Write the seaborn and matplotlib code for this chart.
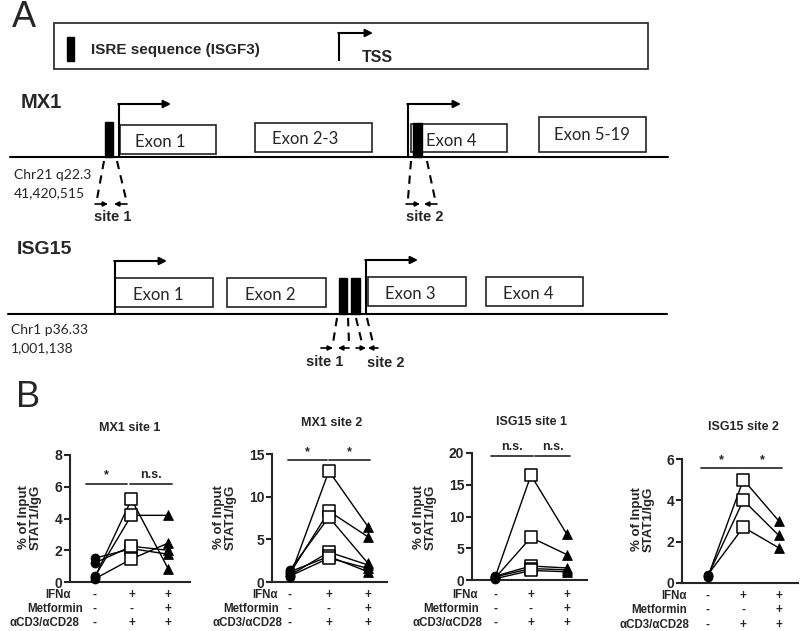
import numpy as np
import pandas as pd
import matplotlib
matplotlib.use('Agg')
import matplotlib.pyplot as plt
import matplotlib.transforms as mtransforms
from matplotlib.patches import Rectangle
import seaborn as sns

sns.set_style('ticks')
plt.rcParams['font.family'] = ['Liberation Sans', 'DejaVu Sans']

# ---------------- data (panel B) ----------------
panel_titles = ['MX1 site 1', 'MX1 site 2', 'ISG15 site 1', 'ISG15 site 2']

mx1_s1_ctrl = [0.3, 0.35, 1.5, 1.2, 0.2]
mx1_s1_ifn = [5.2, 4.2, 2.1, 2.25, 1.45]
mx1_s1_met = [0.85, 4.2, 1.75, 2.0, 2.45]

mx1_s2_ctrl = [0.6, 1.0, 1.4, 0.8, 1.2, 0.7]
mx1_s2_ifn = [13.0, 8.3, 7.6, 3.5, 3.0, 2.8]
mx1_s2_met = [6.5, 5.3, 2.2, 2.0, 1.2, 1.6]

isg_s1_ctrl = [0.4, 0.3, 0.6, 0.5, 0.2]
isg_s1_ifn = [16.5, 6.7, 2.2, 1.8, 1.5]
isg_s1_met = [7.2, 4.0, 1.9, 1.6, 1.3]

isg_s2_ctrl = [0.3, 0.35, 0.4]
isg_s2_ifn = [5.0, 4.0, 2.7]
isg_s2_met = [3.0, 2.3, 1.7]

y_max = [8, 15, 20, 6]
y_ticks = [[0, 2, 4, 6, 8], [0, 5, 10, 15], [0, 5, 10, 15, 20], [0, 2, 4, 6]]
sig_labels = [['*', 'n.s.'], ['*', '*'], ['n.s.', 'n.s.'], ['*', '*']]
sig_y = [6.2, 14.3, 19.6, 5.56]

row_labels = ['IFNα', 'Metformin', 'αCD3/αCD28']
row_signs = [['-', '+', '+'], ['-', '-', '+'], ['-', '+', '+']]

# ---------------- layout helpers ----------------
W, H = 800, 631
fig = plt.figure(figsize=(W / 100, H / 100), dpi=100)


def fx(x):
    return x / W


def fy(y):
    return 1 - y / H


# ---------------- panel A (diagram) ----------------
axA = fig.add_axes([0, 0, 1, 1])
axA.set_xlim(0, W)
axA.set_ylim(H, 0)
axA.axis('off')
axA.patch.set_alpha(0)

BOLD = dict(fontweight='bold', family=['Liberation Sans', 'DejaVu Sans'])
CAL = dict(family=['Lato', 'DejaVu Sans'])

axA.text(12, 27, 'A', fontsize=26, va='baseline', ha='left')
axA.text(16, 407, 'B', fontsize=26, va='baseline', ha='left')

# legend box
axA.add_patch(Rectangle((54, 23), 594, 46, fill=False, lw=1.3, ec='#333'))
axA.add_patch(Rectangle((67, 37), 7, 24, color='k'))
axA.text(91, 50, 'ISRE sequence (ISGF3)', fontsize=11, va='center', **BOLD)


def tss(x, y0, y1, x1):
    axA.plot([x, x], [y0, y1], color='k', lw=1.5, solid_capstyle='butt')
    axA.annotate('', xy=(x1, y1), xytext=(x - 0.7, y1),
                 arrowprops=dict(arrowstyle='-|>', lw=1.5, color='k',
                                 mutation_scale=11, shrinkA=0, shrinkB=0))


tss(339, 61, 33, 373)
axA.text(362, 58, 'TSS', fontsize=11.5, va='center', **BOLD)

# MX1
axA.text(21, 102, 'MX1', fontsize=14.5, va='center', **BOLD)
axA.plot([10, 668], [157, 157], color='k', lw=1.5)
for (x0, x1, y0, y1, lab, cx, cy) in [(120, 216, 125, 154, 'Exon 1', 160, 142),
                                      (255, 372, 123, 152, 'Exon 2-3', 305, 139),
                                      (411, 507, 124, 152, 'Exon 4', 451, 141),
                                      (539, 646, 117, 152, 'Exon 5-19', 592, 135)]:
    axA.add_patch(Rectangle((x0, y0), x1 - x0, y1 - y0, fill=False, lw=1.2, ec='#222'))
    axA.text(cx, cy, lab, fontsize=12, ha='center', va='center', **CAL)
axA.add_patch(Rectangle((105, 122), 8, 35, color='k'))
axA.add_patch(Rectangle((413, 123), 9, 34, color='k'))
tss(119, 157, 104, 171)
tss(408, 157, 104, 461)
axA.text(14, 175, 'Chr21 q22.3', fontsize=10, va='center', **CAL)
axA.text(14, 193, '41,420,515', fontsize=10, va='center', **CAL)

DASH = dict(color='k', lw=1.5, linestyle=(0, (4, 3)))


def site_arrow(xa, xb, y):
    axA.annotate('', xy=(xb, y), xytext=(xa, y),
                 arrowprops=dict(arrowstyle='-|>', lw=1.2, color='k',
                                 mutation_scale=7, shrinkA=0, shrinkB=0))


axA.plot([104, 97], [161, 199], **DASH)
axA.plot([117, 126], [161, 199], **DASH)
site_arrow(95, 108, 204)
site_arrow(127, 114, 204)
axA.text(113, 217, 'site 1', fontsize=10.5, ha='center', va='center', **BOLD)

axA.plot([411, 408], [161, 199], **DASH)
axA.plot([427, 435], [161, 199], **DASH)
site_arrow(406, 420, 204)
site_arrow(437, 424, 204)
axA.text(425, 217, 'site 2', fontsize=10.5, ha='center', va='center', **BOLD)

# ISG15
axA.text(17, 249, 'ISG15', fontsize=14, va='center', **BOLD)
axA.plot([8, 667], [314, 314], color='k', lw=1.5)
for (x0, x1, y0, y1, lab, cx, cy) in [(115, 213, 278, 307, 'Exon 1', 158, 295),
                                      (227, 326, 278, 307, 'Exon 2', 270, 295),
                                      (368, 466, 277, 306, 'Exon 3', 410, 294),
                                      (486, 583, 277, 306, 'Exon 4', 528, 294)]:
    axA.add_patch(Rectangle((x0, y0), x1 - x0, y1 - y0, fill=False, lw=1.2, ec='#222'))
    axA.text(cx, cy, lab, fontsize=12, ha='center', va='center', **CAL)
axA.add_patch(Rectangle((339, 278), 8, 36, color='k'))
axA.add_patch(Rectangle((351, 278), 9, 36, color='k'))
tss(115, 314, 261, 167)
tss(366, 314, 260, 418)
axA.text(11, 330, 'Chr1 p36.33', fontsize=10, va='center', **CAL)
axA.text(11, 348, '1,001,138', fontsize=10, va='center', **CAL)

axA.plot([337, 333], [318, 343], **DASH)
axA.plot([348, 349], [318, 343], **DASH)
axA.plot([356, 362], [318, 343], **DASH)
axA.plot([367, 373], [318, 343], **DASH)
site_arrow(321, 333, 348)
site_arrow(349, 338, 348)
site_arrow(356, 366, 348)
site_arrow(378, 368, 348)
axA.text(325, 362, 'site 1', fontsize=10.5, ha='center', va='center', **BOLD)
axA.text(386, 363, 'site 2', fontsize=10.5, ha='center', va='center', **BOLD)

# ---------------- panel B (seaborn) ----------------
panels = [(mx1_s1_ctrl, mx1_s1_ifn, mx1_s1_met),
          (mx1_s2_ctrl, mx1_s2_ifn, mx1_s2_met),
          (isg_s1_ctrl, isg_s1_ifn, isg_s1_met),
          (isg_s2_ctrl, isg_s2_ifn, isg_s2_met)]

# axes boxes in pixels: left, right, top, bottom ; x-limits
ax_px = [(70, 190, 455, 582), (272, 387, 454, 582), (472, 587, 453, 580), (682, 798, 459, 583)]
ax_xlim = [(-0.68, 2.6), (-0.46, 2.49), (-0.64, 2.56), (-0.73, 2.54)]
title_px = [(130, 428), (332, 423), (531, 422), (743, 427)]
ylab_px = [(30, 517), (225, 517), (425, 517), (643, 519)]
sig_x = [[(-0.25, 0.87), (0.95, 2.1)], [(-0.05, 0.95), (1.0, 2.05)],
         [(-0.1, 1.05), (1.1, 2.1)], [(-0.2, 0.95), (0.98, 2.1)]]
row_px = [[595, 609, 623], [595, 609, 623], [595, 609, 623], [596, 610, 625]]
row_label_right = [[71, 83, 79], [278, 279, 282], [478, 479, 482], [687, 687, 689]]

for i, (ctrl, ifn, met) in enumerate(panels):
    l, r, t, b = ax_px[i]
    ax = fig.add_axes([fx(l), fy(b), (r - l) / W, (b - t) / H])
    n = len(ctrl)
    df = pd.DataFrame({
        'x': [0] * n + [1] * n + [2] * n,
        'y': list(ctrl) + list(ifn) + list(met),
        'subject': list(range(n)) * 3,
        'cond': ['ctrl'] * n + ['ifn'] * n + ['met'] * n,
    })
    sns.lineplot(data=df, x='x', y='y', units='subject', estimator=None,
                 color='k', lw=1, ax=ax, legend=False)
    sns.scatterplot(data=df[df.cond == 'ctrl'], x='x', y='y', marker='o',
                    color='k', edgecolor='k', s=42, ax=ax, legend=False, zorder=3)
    sns.scatterplot(data=df[df.cond == 'ifn'], x='x', y='y', marker='s',
                    color='white', edgecolor='k', linewidth=1.1, s=64, ax=ax,
                    legend=False, zorder=3)
    sns.scatterplot(data=df[df.cond == 'met'], x='x', y='y', marker='^',
                    color='k', edgecolor='k', s=50, ax=ax, legend=False, zorder=3)
    for art in ax.collections + ax.lines:
        art.set_clip_on(False)

    ax.set_xlim(*ax_xlim[i])
    ax.set_ylim(0, y_max[i])
    ax.set_yticks(y_ticks[i])
    ax.set_xticks([])
    ax.set_xlabel('')
    ax.set_ylabel('')
    ax.patch.set_alpha(0)
    for s in ['top', 'right']:
        ax.spines[s].set_visible(False)
    for s in ['left', 'bottom']:
        ax.spines[s].set_linewidth(1.5)
    ax.tick_params(axis='y', length=4, width=1.5, direction='out', labelsize=10, pad=1.5)
    for lbl in ax.get_yticklabels():
        lbl.set_fontweight('bold')

    # significance bars
    for (x0, x1), lab in zip(sig_x[i], sig_labels[i]):
        ax.plot([x0, x1], [sig_y[i], sig_y[i]], color='#333', lw=1.3, clip_on=False)
        ax.annotate(lab, xy=((x0 + x1) / 2, sig_y[i]), xytext=(0, 1.5),
                    textcoords='offset points', ha='center', va='bottom',
                    fontsize=9, fontweight='bold', annotation_clip=False)

    # titles and y labels
    fig.text(fx(title_px[i][0]), fy(title_px[i][1]), panel_titles[i], ha='center',
             va='center', fontsize=9, fontweight='bold')
    fig.text(fx(ylab_px[i][0]), fy(ylab_px[i][1]), '% of Input\nSTAT1/IgG', ha='center',
             va='center', rotation=90, fontsize=9.5, fontweight='bold', linespacing=1.0)

    # treatment rows
    trans = mtransforms.blended_transform_factory(ax.transData, fig.transFigure)
    for ry, rx, lab, signs in zip(row_px[i], row_label_right[i], row_labels, row_signs):
        fig.text(fx(rx), fy(ry), lab, ha='right', va='center',
                 fontsize=8.3, fontweight='bold')
        for k, sg in enumerate(signs):
            ax.text(k, fy(ry), sg, transform=trans, ha='center', va='center',
                    fontsize=8.5, fontweight='bold', clip_on=False)

fig.savefig('out.png', dpi=100)
